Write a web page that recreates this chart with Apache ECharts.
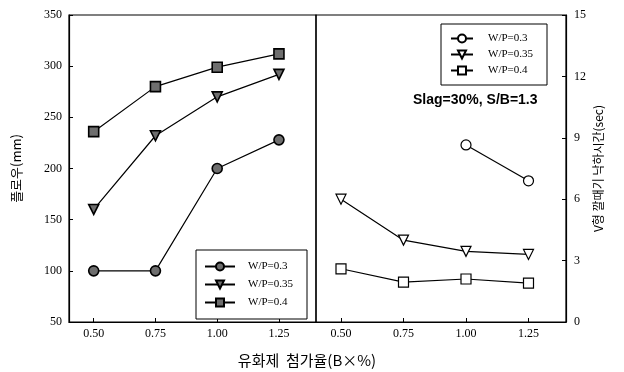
<!DOCTYPE html>
<html>
<head>
<meta charset="utf-8">
<script src="https://cdn.jsdelivr.net/npm/echarts@6/dist/echarts.min.js"></script>
<style>
  html, body { margin: 0; padding: 0; background: #fff; }
  #chart { width: 624px; height: 372px; }
</style>
</head>
<body>
<div id="chart"></div>
<script>
// Superplasticizer dosage (B×%) on the x axis of both panels
const dosage = [0.50, 0.75, 1.00, 1.25];
const dosageTicks = [0.50, 0.75, 1.00, 1.25];

// Left panel: flow (mm)
const flowWP30 = [100, 100, 200, 228];
const flowWP35 = [160, 232, 270, 292];
const flowWP40 = [236, 280, 299, 312];

// Right panel: V-funnel flow time (sec); no reading at the two lowest dosages for W/P=0.3
const vFunnelWP30 = [null, null, 8.65, 6.9];
const vFunnelWP35 = [6.0, 4.0, 3.45, 3.3];
const vFunnelWP40 = [2.6, 1.95, 2.1, 1.9];

const seriesLabels = ['W/P=0.3', 'W/P=0.35', 'W/P=0.4'];

const serif = '"Liberation Serif", "DejaVu Serif", serif';
const kr = '"Noto Sans CJK KR", sans-serif';

function pairs(ys) {
  return dosage.map((x, i) => [x, ys[i]]).filter(p => p[1] !== null);
}

const markers = [
  { symbol: 'circle', rotate: 0 },
  { symbol: 'triangle', rotate: 180 },
  { symbol: 'rect', rotate: 0 }
];

function makeSeries(prefix, values, idx, filled) {
  return values.map((ys, k) => ({
    name: prefix + '|' + seriesLabels[k],
    type: 'line',
    xAxisIndex: idx,
    yAxisIndex: idx,
    data: pairs(ys),
    symbol: markers[k].symbol,
    symbolRotate: markers[k].rotate,
    symbolSize: 10,
    lineStyle: { color: '#000', width: 1.2 },
    itemStyle: filled
      ? { color: '#6e6e6e', borderColor: '#000', borderWidth: 1.6 }
      : { color: '#fff', borderColor: '#000', borderWidth: 1.2 },
    emphasis: { disabled: true },
    animation: false,
    z: 3
  }));
}

const xAxisBase = {
  type: 'value',
  min: 0.4,
  max: 1.4,
  splitLine: { show: false },
  axisLine: { show: true, lineStyle: { color: '#000', width: 1.2 } },
  axisTick: { show: true, inside: true, length: 4, customValues: dosageTicks, lineStyle: { color: '#000' } },
  axisLabel: {
    customValues: dosageTicks,
    formatter: v => v.toFixed(2),
    color: '#000', fontFamily: serif, fontSize: 12, margin: 6
  }
};

const chart = echarts.init(document.getElementById('chart'), null, { renderer: 'canvas' });

chart.setOption({
  backgroundColor: '#fff',
  animation: false,
  grid: [
    { left: 69, right: 308, top: 15, bottom: 50, show: true, borderColor: '#000', borderWidth: 1.2, backgroundColor: 'transparent' },
    { left: 316, right: 58, top: 15, bottom: 50, show: true, borderColor: '#000', borderWidth: 1.2, backgroundColor: 'transparent' }
  ],
  xAxis: [
    Object.assign({ gridIndex: 0 }, xAxisBase),
    Object.assign({ gridIndex: 1 }, xAxisBase)
  ],
  yAxis: [
    {
      gridIndex: 0, type: 'value', min: 50, max: 350, interval: 50,
      name: '플로우(mm)', nameLocation: 'middle', nameRotate: 90, nameGap: 46,
      nameTextStyle: { fontFamily: kr, fontSize: 13, color: '#000' },
      splitLine: { show: false },
      axisLine: { show: true, lineStyle: { color: '#000', width: 1.2 } },
      axisTick: { show: true, inside: true, length: 4, lineStyle: { color: '#000' } },
      axisLabel: { color: '#000', fontFamily: serif, fontSize: 12, margin: 7 }
    },
    {
      gridIndex: 1, type: 'value', position: 'right', min: 0, max: 15, interval: 3,
      name: 'V형 깔때기 낙하시간(sec)', nameLocation: 'middle', nameRotate: 90, nameGap: 26,
      nameTextStyle: { fontFamily: kr, fontSize: 12, color: '#000' },
      splitLine: { show: false },
      axisLine: { show: true, lineStyle: { color: '#000', width: 1.2 } },
      axisTick: { show: true, inside: true, length: 4, lineStyle: { color: '#000' } },
      axisLabel: { color: '#000', fontFamily: serif, fontSize: 12, margin: 8 }
    }
  ],
  legend: [
    {
      data: seriesLabels.map(s => 'flow|' + s),
      formatter: n => n.split('|')[1],
      orient: 'vertical', left: 196, top: 250,
      padding: [11, 14, 11, 8],
      itemWidth: 30, itemHeight: 10, itemGap: 7,
      borderColor: '#000', borderWidth: 1, borderRadius: 0,
      backgroundColor: '#fff',
      selectedMode: false,
      textStyle: { fontFamily: serif, fontSize: 11, color: '#000', padding: [0, 0, 0, 8] }
    },
    {
      data: seriesLabels.map(s => 'vf|' + s),
      formatter: n => n.split('|')[1],
      orient: 'vertical', left: 441, top: 24,
      padding: [9, 14, 9, 9],
      itemWidth: 22, itemHeight: 10, itemGap: 5,
      borderColor: '#000', borderWidth: 1, borderRadius: 0,
      backgroundColor: '#fff',
      selectedMode: false,
      textStyle: { fontFamily: serif, fontSize: 11, color: '#000', padding: [0, 0, 0, 10] }
    }
  ],
  graphic: [
    {
      type: 'text', left: 413, top: 93, z: 10,
      style: { text: 'Slag=30%, S/B=1.3', font: 'bold 14px "Liberation Sans", Arial, sans-serif', fill: '#000' }
    },
    {
      type: 'text', x: 307, y: 360, z: 10,
      style: { text: '유화제  첨가율(B×%)', font: '15px "Noto Sans CJK KR", sans-serif', fill: '#000', align: 'center', verticalAlign: 'middle' }
    }
  ],
  series: [
    ...makeSeries('flow', [flowWP30, flowWP35, flowWP40], 0, true),
    ...makeSeries('vf', [vFunnelWP30, vFunnelWP35, vFunnelWP40], 1, false)
  ]
});
</script>
</body>
</html>
